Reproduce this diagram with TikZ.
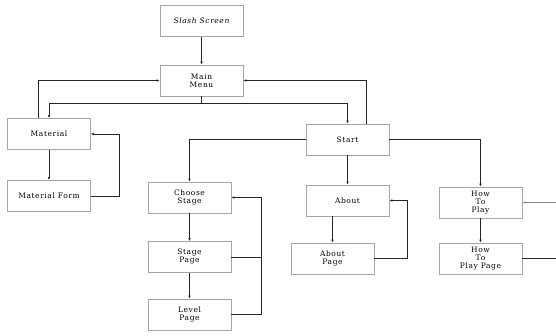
\documentclass[tikz,border=0pt]{standalone}
\usepackage{fontspec}
\setmainfont[LetterSpace=8]{DejaVu Serif}
\usetikzlibrary{arrows.meta}
\begin{document}
\begin{tikzpicture}[x=1pt,y=-1pt,
	screen/.style={draw=black!35,line width=0.8pt,fill=white,minimum width=83pt,minimum height=31pt,inner sep=0pt,align=center,font=\fontsize{7.5}{8}\selectfont},
	link/.style={draw=black!85,line width=0.7pt},
	arr/.style={link,-{Latex[length=3pt,width=2.6pt]}}]
	\useasboundingbox (0,0) rectangle (556,336);
	%screens
	\node[screen] (slash) at (201.5,21) {\itshape Slash Screen};
	\node[screen] (menu) at (201.5,80.5) {Main\\Menu};
	\node[screen] (material) at (49,134) {Material};
	\node[screen] (matform) at (49,196) {Material Form};
	\node[screen] (start) at (347.5,139.5) {Start};
	\node[screen] (choose) at (189.5,197.5) {Choose\\Stage};
	\node[screen] (stagepage) at (189.5,257) {Stage\\Page};
	\node[screen] (levelpage) at (189.5,314.5) {Level\\Page};
	\node[screen] (about) at (347.5,200.5) {About};
	\node[screen] (aboutpage) at (332.5,258.5) {About\\Page};
	\node[screen] (howto) at (480.5,202.5) {How\\To\\Play};
	\node[screen] (howtopage) at (480.5,258.5) {How\\To\\Play Page};
	\coordinate (edgein) at (556,202.5);
	\coordinate (edgeout) at (556,258.5);
	%links
	\draw[arr] (slash) -- (menu);
	\draw[arr] (menu.south) -- ++(0,7) -| (material.north);
	\draw[arr] (menu.south) ++(0,7) -| (start.north);
	\draw[arr] ([xshift=-11pt]material.north) |- (menu.west);
	\draw[arr] ([xshift=18.5pt]start.north) |- (menu.east);
	\draw[arr] (material) -- (matform);
	\draw[arr] (matform.east) -- ++(28,0) |- (material.east);
	\draw[arr] (start.west) -| (choose.north);
	\draw[arr] (start.east) -| (howto.north);
	\draw[arr] (start) -- (about);
	\draw[arr] (choose) -- (stagepage);
	\draw[arr] (stagepage) -- (levelpage);
	\draw[link] (stagepage.east) -- ++(30,0);
	\draw[arr] (levelpage.east) -- ++(30,0) |- (choose.east);
	\draw[arr] (about.south -| aboutpage) -- (aboutpage);
	\draw[arr] (aboutpage.east) -- ++(33,0) |- (about.east);
	\draw[arr] (howto) -- (howtopage);
	\draw[arr,draw=black!45,line width=1pt] (edgein) -- (howto.east);
	\draw[link] (howtopage.east) -- (edgeout);
\end{tikzpicture}
\end{document}
